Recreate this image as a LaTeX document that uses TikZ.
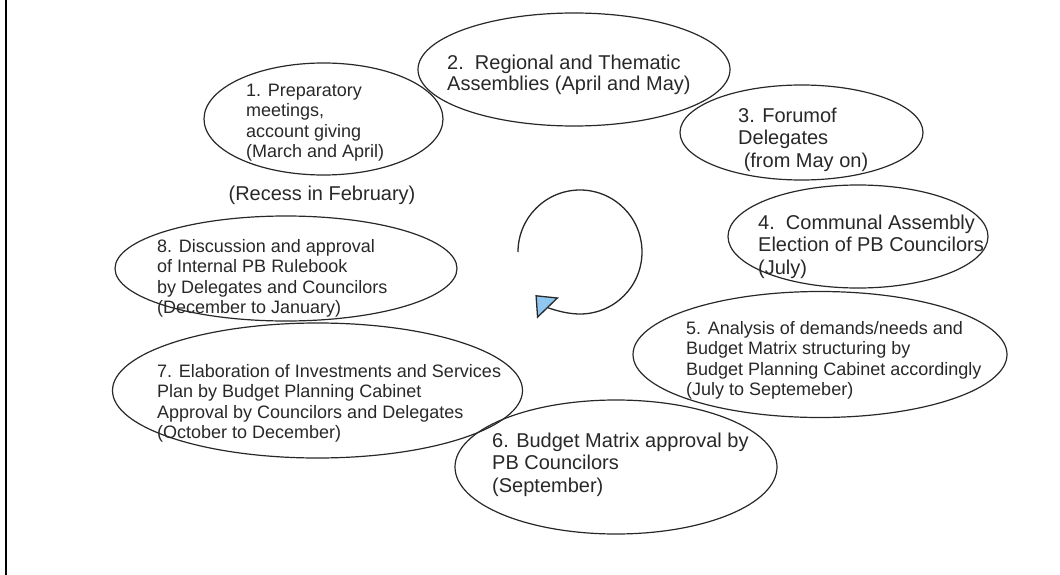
\documentclass[tikz,border=0pt]{standalone}
\usepackage{fontspec}
\setmainfont{Liberation Sans}
\usetikzlibrary{shapes.geometric,arrows.meta}
\definecolor{arrowblue}{RGB}{143,199,240}
\definecolor{ink}{RGB}{40,40,40}
\begin{document}
\begin{tikzpicture}[x=1pt,y=-1pt,
  oval/.style={draw=ink, line width=1.2pt, ellipse, inner sep=0pt},
  lbl/.style={anchor=north west, inner sep=0pt, align=left, text=ink},
  small/.style={font=\fontsize{18}{20.5}\selectfont},
  big/.style={font=\fontsize{20}{22.5}\selectfont}]
\useasboundingbox (0,0) rectangle (1060,575);
\coordinate (frametop) at (6,0);
\coordinate (framebot) at (6,575);
\draw[line width=1.5pt, black] (frametop) -- (framebot);

% ellipses
\node[oval, minimum width=239pt, minimum height=112pt] (e1) at (323.5,119) {};
\node[oval, minimum width=312pt, minimum height=113pt] (e2) at (574,69.5) {};
\node[oval, minimum width=243pt, minimum height=95pt] (e3) at (801.5,132.5) {};
\node[oval, minimum width=260pt, minimum height=103pt] (e4) at (858,236.5) {};
\node[oval, minimum width=374pt, minimum height=126pt] (e5) at (820,354.5) {};
\node[oval, minimum width=322pt, minimum height=134pt] (e6) at (616,467) {};
\node[oval, minimum width=410pt, minimum height=135pt] (e7) at (317.5,390.5) {};
\node[oval, minimum width=342pt, minimum height=105pt] (e8) at (286,268.5) {};

% texts
\node[lbl, small] (t1) at (246,81.65) {\strut 1. Preparatory\\meetings,\\account giving\\(March and April)};
\node[lbl, big, font=\fontsize{20}{21}\selectfont] (t2) at (447,54.3) {\strut 2.\ \ Regional and Thematic\\Assemblies (April and May)};
\node[lbl, big] (t3) at (738,106.25) {\strut 3. Forumof\\Delegates\\\ (from May on)};
\node[lbl, big] (t4) at (758,213.25) {\strut 4.\ \ Communal Assembly\\Election of PB Councilors\\(July)};
\node[lbl, small] (t5) at (686,319.65) {\strut 5. Analysis of demands/needs and\\Budget Matrix structuring by\\Budget Planning Cabinet accordingly\\(July to Septemeber)};
\node[lbl, big] (t6) at (492,431.25) {\strut 6. Budget Matrix approval by\\PB Councilors\\(September)};
\node[lbl, small] (t7) at (157,362.65) {\strut 7. Elaboration of Investments and Services\\Plan by Budget Planning Cabinet\\Approval by Councilors and Delegates\\(October to December)};
\node[lbl, small] (t8) at (157,237.65) {\strut 8. Discussion and approval\\of Internal PB Rulebook\\by Delegates and Councilors\\(December to January)};
\node[anchor=base, inner sep=0pt, text=ink, big] (recess) at (322,200) {(Recess in February)};

% cycle arrow
\coordinate (cyc) at (580,252);
\draw[draw=ink, line width=1.3pt, -{Triangle[length=18pt, width=30pt, fill=arrowblue]}]
  ([shift={(180:62)}]cyc) arc[start angle=180, end angle=496, radius=62];
\end{tikzpicture}
\end{document}
